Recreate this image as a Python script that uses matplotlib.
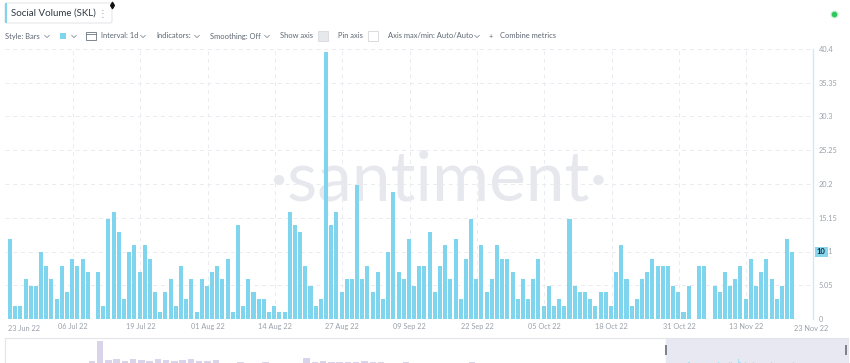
import numpy as np
import pandas as pd
import matplotlib
matplotlib.use("Agg")
import matplotlib.pyplot as plt
from matplotlib.patches import Rectangle, FancyBboxPatch

plt.rcParams['font.family'] = ['Lato', 'DejaVu Sans']

# === Datos ===
start_date = "2022-06-23"
social_volume = [12, 2, 2, 6, 5, 5, 10, 8, 6, 3, 8, 4, 9, 8, 9, 7, 0, 7, 2, 15,
                 16, 13, 3, 10, 11, 7, 11, 9, 4, 1, 4, 6, 2, 8, 3, 6, 1, 6, 5, 7,
                 8, 6, 9, 1, 14, 2, 6, 4, 3, 3, 1, 2, 1, 1, 16, 14, 13, 8, 5, 2,
                 3, 40, 14, 16, 4, 6, 6, 20, 6, 8, 4, 7, 3, 10, 19, 7, 6, 12, 5, 8,
                 8, 13, 4, 8, 11, 6, 12, 3, 9, 15, 6, 11, 4, 6, 11, 9, 9, 7, 3, 6,
                 3, 6, 9, 2, 5, 2, 3, 2, 15, 5, 4, 4, 3, 2, 4, 4, 2, 7, 11, 6,
                 2, 3, 6, 7, 9, 8, 8, 8, 5, 4, 1, 5, 0, 8, 8, 0, 5, 4, 7, 5,
                 6, 8, 3, 9, 5, 7, 9, 6, 3, 5, 12, 10]
y_ticks = [0, 5.05, 10.1, 15.15, 20.2, 25.25, 30.3, 35.35, 40.4]
y_tick_labels = ["0", "5.05", "10.1", "15.15", "20.2", "25.25", "30.3", "35.35", "40.4"]
date_tick_days = [13, 26, 39, 52, 65, 78, 91, 104, 117, 130, 143]
end_day = 153
last_value_label = "10"

# historia semanal del navegador (antes del 23 Jun 22)
history_weekly = [6, 5, 7, 5, 6, 8, 5, 7, 6, 9, 30, 200, 35, 40, 28, 45, 38, 30, 42, 36,
                  25, 33, 40, 30, 28, 35, 12, 10, 15, 9, 11, 14, 10, 12, 9, 13, 50, 20, 25, 18,
                  22, 15, 20, 24, 18, 16, 12, 10, 14, 11, 9, 12, 10, 8, 9, 11, 14, 10, 8, 9,
                  12, 10, 9, 11, 8, 10, 9, 8, 9, 10, 12, 8, 7, 9, 10, 11, 9, 8, 10, 9]

# === Colores ===
BAR = "#7fd4ee"
GRID = "#e8ebef"
TXT = "#9aa1ab"
TOOL = "#5d6670"

W, H = 850, 363
fig = plt.figure(figsize=(W / 100, H / 100), dpi=100)


def px_axes(x0, y0, x1, y1, **kw):
    return fig.add_axes([x0 / W, 1 - y1 / H, (x1 - x0) / W, (y1 - y0) / H], **kw)


# === Grafico principal ===
ax = px_axes(5, 49, 813, 319)
ax.patch.set_alpha(0)
x = np.arange(len(social_volume))
ax.bar(x, social_volume, width=0.78, color=BAR, zorder=3)
ax.set_xlim(-0.97, 155.0)
ax.set_ylim(0, 40.4)

ax.text(0.536, 0.51, "\u00b7santiment\u00b7", transform=ax.transAxes, ha="center", va="center",
        fontsize=50, color="#e6e8ee", fontweight="normal", zorder=1)

t0 = pd.Timestamp(start_date)
ax.set_xticks([d - 0.85 for d in date_tick_days],
              [(t0 + pd.Timedelta(days=d)).strftime("%d %b %y") for d in date_tick_days])
ax.tick_params(axis="x", length=0, pad=3, labelsize=5.3, labelcolor=TXT)
ax.yaxis.tick_right()
ax.set_yticks(y_ticks, y_tick_labels)
ax.tick_params(axis="y", length=0, pad=4, labelsize=5.3, labelcolor=TXT)
ax.grid(True, color=GRID, linestyle=(0, (4, 4)), linewidth=0.7, zorder=0)
for s in ["top", "left", "bottom"]:
    ax.spines[s].set_visible(False)
ax.spines["right"].set_color("#cfeaf5")
ax.spines["right"].set_linewidth(1.0)

# etiquetas de extremos
ax.text(0.004, -0.022, t0.strftime("%d %b %y"), transform=ax.transAxes, ha="left", va="top",
        fontsize=5.3, color=TXT)
ax.text(0.998, -0.022, (t0 + pd.Timedelta(days=end_day)).strftime("%d %b %y"), transform=ax.transAxes,
        ha="center", va="top", fontsize=5.3, color=TXT)

# === Navegador ===
nav = px_axes(5, 338, 848, 364)
hist_x = -560 + 7 * np.arange(len(history_weekly)) + 3.5
nav.bar(hist_x, history_weekly, width=5.5, color="#d9d4ea", zorder=2)
nav.bar(x, social_volume, width=0.8, color="#a9dff1", zorder=2)
nav.axvspan(-0.5, 154, color="#e7e8f2", zorder=1)
nav.set_xlim(-560, 154)
nav.set_ylim(0, 230)
nav.set_xticks([])
nav.set_yticks([])
for s in nav.spines.values():
    s.set_color("#e3e5ea")
    s.set_linewidth(0.8)
nav.spines["bottom"].set_visible(False)

# === Barra de herramientas ===
ov = fig.add_axes([0, 0, 1, 1], zorder=5)
ov.patch.set_alpha(0)
ov.set_xlim(0, W)
ov.set_ylim(H, 0)
ov.axis("off")

ov.add_patch(FancyBboxPatch((5, 3), 107, 20, boxstyle="round,pad=0,rounding_size=2",
                            ec="#e3e6ea", fc="white", lw=0.8))
ov.add_patch(Rectangle((5, 3), 2, 20, fc=BAR, ec="none"))
ov.text(11, 13.5, "Social Volume (SKL)", fontsize=7, color="#2f3a44", va="center")
ov.text(98, 13.5, "\u22ee", fontsize=7, color="#a3aab2", va="center", family="DejaVu Sans")
ov.scatter([112], [5], s=10, marker="d", color="#111111", zorder=6)
ov.scatter([834], [14], s=22, color="#c9f0d3", zorder=6)
ov.scatter([834], [14], s=9, color="#2fc85a", zorder=7)


def chevron(cx, cy=36.5):
    ov.plot([cx - 2.3, cx, cx + 2.3], [cy - 1.1, cy + 1.1, cy - 1.1], color="#8a939c", lw=0.6)


toolbar = [("Style: Bars", 5), ("Interval: 1d", 101), ("Indicators:", 156),
           ("Smoothing: Off", 210), ("Show axis", 280), ("Pin axis", 338),
           ("Axis max/min: Auto/Auto", 388), ("+", 489), ("Combine metrics", 500)]
for label, xp in toolbar:
    ov.text(xp, 36, label, fontsize=5.4, color=TOOL, va="center")
for cx in [47, 74, 143, 197, 267, 477]:
    chevron(cx)
ov.add_patch(Rectangle((60, 33), 6, 6, fc=BAR, ec="none"))
ov.add_patch(Rectangle((86, 32), 10, 8, fc="white", ec="#6b747d", lw=0.6))
ov.plot([86, 96], [33.5, 33.5], color="#6b747d", lw=0.6)
ov.add_patch(Rectangle((318, 31), 10, 10, fc="#e6e8eb", ec="#d7dade", lw=0.6))
ov.add_patch(Rectangle((368, 31), 10, 10, fc="white", ec="#d3d6da", lw=0.6))

# valor actual
ov.text(817, 252, last_value_label, fontsize=5.5, color="#10222f", fontweight="bold", va="center",
        bbox=dict(boxstyle="square,pad=0.25", fc="#86d6ee", ec="none"))

# asas del navegador
ov.add_patch(Rectangle((665.3, 345), 1.8, 10, fc="#7f818c", ec="none"))
ov.add_patch(Rectangle((845.5, 345), 1.8, 10, fc="#7f818c", ec="none"))

fig.savefig("out.png", dpi=100)
